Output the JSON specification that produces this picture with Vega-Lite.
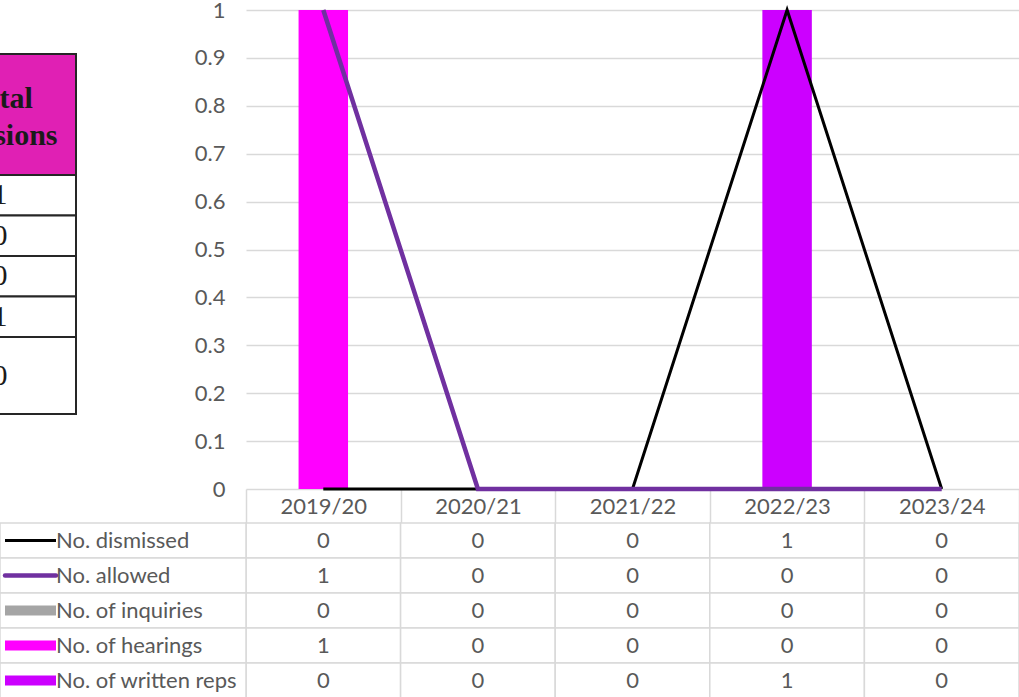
{
  "$schema": "https://vega.github.io/schema/vega-lite/v6.json",
  "width": 773,
  "height": 479,
  "autosize": "none",
  "padding": {"left": 246, "top": 10, "right": 0, "bottom": 208},
  "background": "white",
  "config": {"view": {"stroke": null}, "font": "Lato"},
  "datasets": {
    "d": [
      {"year": "2019/20", "series": "No. dismissed", "value": 0},
      {"year": "2020/21", "series": "No. dismissed", "value": 0},
      {"year": "2021/22", "series": "No. dismissed", "value": 0},
      {"year": "2022/23", "series": "No. dismissed", "value": 1},
      {"year": "2023/24", "series": "No. dismissed", "value": 0},
      {"year": "2019/20", "series": "No. allowed", "value": 1},
      {"year": "2020/21", "series": "No. allowed", "value": 0},
      {"year": "2021/22", "series": "No. allowed", "value": 0},
      {"year": "2022/23", "series": "No. allowed", "value": 0},
      {"year": "2023/24", "series": "No. allowed", "value": 0},
      {"year": "2019/20", "series": "No. of inquiries", "value": 0},
      {"year": "2020/21", "series": "No. of inquiries", "value": 0},
      {"year": "2021/22", "series": "No. of inquiries", "value": 0},
      {"year": "2022/23", "series": "No. of inquiries", "value": 0},
      {"year": "2023/24", "series": "No. of inquiries", "value": 0},
      {"year": "2019/20", "series": "No. of hearings", "value": 1},
      {"year": "2020/21", "series": "No. of hearings", "value": 0},
      {"year": "2021/22", "series": "No. of hearings", "value": 0},
      {"year": "2022/23", "series": "No. of hearings", "value": 0},
      {"year": "2023/24", "series": "No. of hearings", "value": 0},
      {"year": "2019/20", "series": "No. of written reps", "value": 0},
      {"year": "2020/21", "series": "No. of written reps", "value": 0},
      {"year": "2021/22", "series": "No. of written reps", "value": 0},
      {"year": "2022/23", "series": "No. of written reps", "value": 1},
      {"year": "2023/24", "series": "No. of written reps", "value": 0}
    ],
    "totals": [
      {"year": "2019/20", "total": 1},
      {"year": "2020/21", "total": 0},
      {"year": "2021/22", "total": 0},
      {"year": "2022/23", "total": 1},
      {"year": "2023/24", "total": 0}
    ]
  },
  "layer": [
    {
      "data": {"name": "d"},
      "encoding": {
        "x": {
          "field": "year", "type": "nominal", "sort": null,
          "scale": {"type": "band", "domain": ["2019/20", "2020/21", "2021/22", "2022/23", "2023/24"], "paddingInner": 0, "paddingOuter": 0},
          "axis": {
            "title": null, "domain": false, "ticks": true, "tickBand": "extent", "tickSize": 34,
            "tickColor": "#d9d9d9", "tickWidth": 1.5, "labelPadding": -17, "labelBaseline": "middle",
            "labelAngle": 0, "labelFontSize": 22, "labelColor": "#595959", "labelFont": "Lato", "grid": false
          }
        }
      },
      "layer": [
        {
          "encoding": {
            "y": {
              "field": "value", "type": "quantitative",
              "scale": {"domain": [0, 1], "nice": false, "zero": true},
              "axis": {
                "title": null, "values": [0, 0.1, 0.2, 0.3, 0.4, 0.5, 0.6, 0.7, 0.8, 0.9, 1], "format": ".1~f",
                "grid": true, "gridColor": "#d9d9d9", "gridWidth": 1.5, "domain": false, "ticks": false,
                "labelPadding": 21, "labelFontSize": 22, "labelColor": "#595959", "labelFont": "Lato"
              }
            }
          },
          "layer": [
            {
              "transform": [{"filter": {"field": "series", "oneOf": ["No. of inquiries", "No. of hearings", "No. of written reps"]}}],
              "mark": {"type": "bar", "width": {"band": 0.32}},
              "encoding": {
                "color": {
                  "field": "series", "type": "nominal",
                  "scale": {"domain": ["No. dismissed", "No. allowed", "No. of inquiries", "No. of hearings", "No. of written reps"], "range": ["#000000", "#7030A0", "#A5A5A5", "#FF00FF", "#CC00FF"]},
                  "legend": null
                }
              }
            },
            {
              "transform": [{"filter": "datum.series === 'No. dismissed'"}],
              "mark": {"type": "line", "color": "#000000", "strokeWidth": 3},
              "encoding": {}
            },
            {
              "transform": [{"filter": "datum.series === 'No. allowed'"}],
              "mark": {"type": "line", "color": "#7030A0", "strokeWidth": 4.5},
              "encoding": {}
            }
          ]
        },
        {
          "encoding": {
            "y": {
              "field": "series", "type": "nominal", "sort": null,
              "scale": {"type": "band", "domain": ["No. dismissed", "No. allowed", "No. of inquiries", "No. of hearings", "No. of written reps"], "range": [513, 688], "paddingInner": 0, "paddingOuter": 0},
              "axis": null
            }
          },
          "layer": [
            {"mark": {"type": "rect", "fill": "white", "stroke": "#d9d9d9", "strokeWidth": 1.5}},
            {
              "mark": {"type": "text", "fontSize": 22, "color": "#595959", "font": "Lato"},
              "encoding": {"text": {"field": "value", "type": "quantitative"}}
            }
          ]
        }
      ],
      "resolve": {"scale": {"y": "independent"}}
    },
    {
      "data": {"name": "d"},
      "transform": [{"filter": "datum.year === '2019/20'"}],
      "encoding": {
        "y": {
          "field": "series", "type": "nominal", "sort": null,
          "scale": {"type": "band", "domain": ["No. dismissed", "No. allowed", "No. of inquiries", "No. of hearings", "No. of written reps"], "range": [513, 688], "paddingInner": 0, "paddingOuter": 0},
          "axis": null
        }
      },
      "layer": [
        {
          "mark": {"type": "rect", "fill": "white", "stroke": "#d9d9d9", "strokeWidth": 1.5},
          "encoding": {
            "x": {"datum": "lbl", "type": "nominal", "scale": {"type": "band", "domain": ["lbl"], "range": [-246, 0], "paddingInner": 0, "paddingOuter": 0}, "axis": null}
          }
        },
        {
          "encoding": {
            "x": {"datum": 0, "type": "quantitative", "scale": {"domain": [0, 1], "range": [-241, -190], "zero": false, "nice": false}, "axis": null},
            "color": {
              "field": "series", "type": "nominal",
              "scale": {"domain": ["No. dismissed", "No. allowed", "No. of inquiries", "No. of hearings", "No. of written reps"], "range": ["#000000", "#7030A0", "#A5A5A5", "#FF00FF", "#CC00FF"]},
              "legend": null
            }
          },
          "layer": [
            {
              "transform": [{"filter": {"field": "series", "oneOf": ["No. of inquiries", "No. of hearings", "No. of written reps"]}}],
              "mark": {"type": "rule", "strokeCap": "butt", "strokeWidth": 10},
              "encoding": {"x2": {"datum": 1}}
            },
            {
              "transform": [{"filter": "datum.series === 'No. dismissed'"}],
              "mark": {"type": "rule", "strokeCap": "butt", "strokeWidth": 3},
              "encoding": {"x2": {"datum": 1}}
            },
            {
              "transform": [{"filter": "datum.series === 'No. allowed'"}],
              "mark": {"type": "rule", "strokeCap": "round", "strokeWidth": 4.5},
              "encoding": {"x2": {"datum": 1}}
            },
            {
              "mark": {"type": "text", "align": "left", "fontSize": 22, "color": "#595959", "font": "Lato"},
              "encoding": {
                "x": {"datum": 1, "type": "quantitative"},
                "color": {"value": "#595959"},
                "text": {"field": "series", "type": "nominal"}
              }
            }
          ]
        }
      ],
      "resolve": {"scale": {"x": "independent"}}
    },
    {
      "encoding": {
        "x": {"datum": "Total decisions", "type": "nominal", "scale": {"type": "band", "domain": ["Total decisions"], "range": [-322, -170], "paddingInner": 0, "paddingOuter": 0}, "axis": null}
      },
      "layer": [
        {
          "data": {"values": [{"header": "Total decisions"}]},
          "encoding": {
            "y": {"field": "header", "type": "nominal", "scale": {"type": "band", "domain": ["Total decisions"], "range": [44, 165], "paddingInner": 0, "paddingOuter": 0}, "axis": null}
          },
          "layer": [
            {"mark": {"type": "rect", "fill": "#E020B4", "stroke": "#262626", "strokeWidth": 2}},
            {
              "mark": {"type": "text", "lineBreak": " ", "lineHeight": 37, "dy": -16, "font": "Liberation Serif", "fontWeight": "bold", "fontSize": 30, "color": "#1a1a1a"},
              "encoding": {"text": {"field": "header", "type": "nominal"}}
            }
          ]
        },
        {
          "data": {"name": "totals"},
          "transform": [{"filter": "datum.year !== '2023/24'"}],
          "encoding": {
            "y": {"field": "year", "type": "nominal", "sort": null, "scale": {"type": "band", "domain": ["2019/20", "2020/21", "2021/22", "2022/23"], "range": [165, 327], "paddingInner": 0, "paddingOuter": 0}, "axis": null}
          },
          "layer": [
            {"mark": {"type": "rect", "fill": "white", "stroke": "#262626", "strokeWidth": 2}},
            {
              "mark": {"type": "text", "font": "Liberation Serif", "fontSize": 30, "color": "#1a1a1a"},
              "encoding": {"text": {"field": "total", "type": "quantitative"}}
            }
          ]
        },
        {
          "data": {"name": "totals"},
          "transform": [{"filter": "datum.year === '2023/24'"}],
          "encoding": {
            "y": {"field": "year", "type": "nominal", "scale": {"type": "band", "domain": ["2023/24"], "range": [327, 404], "paddingInner": 0, "paddingOuter": 0}, "axis": null}
          },
          "layer": [
            {"mark": {"type": "rect", "fill": "white", "stroke": "#262626", "strokeWidth": 2}},
            {
              "mark": {"type": "text", "font": "Liberation Serif", "fontSize": 30, "color": "#1a1a1a"},
              "encoding": {"text": {"field": "total", "type": "quantitative"}}
            }
          ]
        }
      ],
      "resolve": {"scale": {"y": "independent"}}
    }
  ],
  "resolve": {"scale": {"x": "independent", "y": "independent"}}
}
